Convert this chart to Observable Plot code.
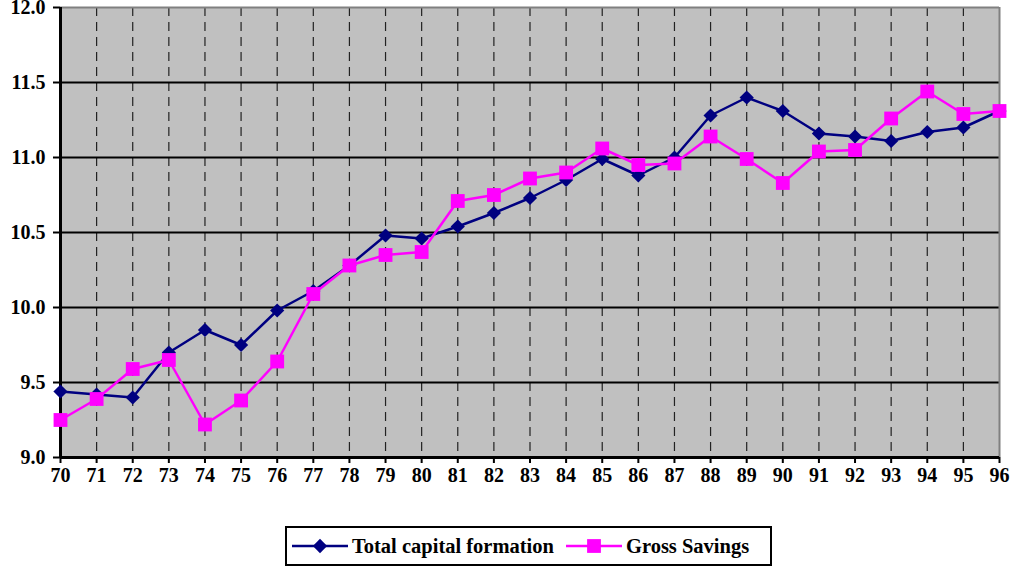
<!DOCTYPE html>
<html>
<head>
<meta charset="utf-8">
<script src="https://cdn.jsdelivr.net/npm/d3@7"></script>
<script src="https://cdn.jsdelivr.net/npm/@observablehq/plot@0.6"></script>
<style>
  html, body { margin: 0; padding: 0; background: #fff; }
  #wrap { position: relative; width: 1011px; height: 566px; }
  #chart svg, #chart svg text {
    font-family: "Liberation Serif", "Times New Roman", serif !important;
    font-weight: bold !important;
  }
  #legend {
    position: absolute; left: 285px; top: 526px; width: 483px; height: 36px;
    border: 2px solid #000; box-sizing: content-box; background: #fff;
    display: flex; align-items: center;
    font-family: "Liberation Serif", "Times New Roman", serif; font-weight: bold; font-size: 20.5px;
  }
  #legend .item { display: flex; align-items: center; }
  #legend svg { display: block; }
</style>
</head>
<body>
<div id="wrap">
  <div id="chart"></div>
  <div id="legend"></div>
</div>
<script>
// Years (two-digit labels) on the x axis
const years = [70, 71, 72, 73, 74, 75, 76, 77, 78, 79, 80, 81, 82, 83, 84, 85, 86, 87, 88, 89, 90, 91, 92, 93, 94, 95, 96];

// Total capital formation (log scale)
const capital = [9.44, 9.42, 9.40, 9.70, 9.85, 9.75, 9.98, 10.11, 10.28, 10.48, 10.46, 10.54, 10.63, 10.73, 10.85, 10.99, 10.88, 11.00, 11.28, 11.40, 11.31, 11.16, 11.14, 11.11, 11.17, 11.20, 11.31];

// Gross savings (log scale)
const savings = [9.25, 9.39, 9.59, 9.65, 9.22, 9.38, 9.64, 10.09, 10.28, 10.35, 10.37, 10.71, 10.75, 10.86, 10.90, 11.06, 10.95, 10.96, 11.14, 10.99, 10.83, 11.04, 11.05, 11.26, 11.44, 11.29, 11.31];

// Y tick values
const yTicks = [9.0, 9.5, 10.0, 10.5, 11.0, 11.5, 12.0];

const seriesNames = ["Total capital formation", "Gross Savings"];
const seriesColors = ["#000080", "#ff00ff"];

const capRows = years.map((y, i) => ({year: y, value: capital[i]}));
const savRows = years.map((y, i) => ({year: y, value: savings[i]}));

const innerYears = years.slice(1, -1);
const innerY = yTicks.slice(1, -1);

const axisFont = {fontFamily: "Liberation Serif", fontWeight: "bold"};

const chart = Plot.plot({
  width: 1011,
  height: 490,
  marginLeft: 60,
  marginRight: 12,
  marginTop: 7,
  marginBottom: 33,
  style: {
    fontFamily: "Liberation Serif",
    fontSize: "20px",
    fontWeight: "bold",
    color: "#000",
    background: "#fff"
  },
  x: {type: "linear", domain: [70, 96]},
  y: {domain: [9, 12]},
  marks: [
    Plot.frame({fill: "#c0c0c0", stroke: null}),
    // dashed vertical gridlines
    Plot.ruleX(innerYears, {stroke: "#222", strokeWidth: 1.2, strokeDasharray: "9,6"}),
    // solid horizontal gridlines
    Plot.ruleY(innerY, {stroke: "#000", strokeWidth: 2}),
    // plot area border (top/right grey, left/bottom black axes)
    Plot.ruleY([12], {stroke: "#808080", strokeWidth: 2}),
    Plot.ruleX([96], {stroke: "#808080", strokeWidth: 2}),
    Plot.ruleX([70], {stroke: "#000", strokeWidth: 3}),
    Plot.ruleY([9], {stroke: "#000", strokeWidth: 3}),
    Plot.axisY({ticks: yTicks, tickFormat: d3.format(".1f"), tickSize: 7, tickPadding: 8, strokeWidth: 2, label: null, ...axisFont}),
    Plot.axisX({ticks: years, tickFormat: d => String(d), tickSize: 6, tickPadding: 4, strokeWidth: 2, label: null, ...axisFont}),
    // Total capital formation
    Plot.line(capRows, {x: "year", y: "value", stroke: seriesColors[0], strokeWidth: 2.5}),
    Plot.dot(capRows, {x: "year", y: "value", symbol: "diamond2", r: 6.4, fill: seriesColors[0], stroke: null}),
    // Gross savings
    Plot.line(savRows, {x: "year", y: "value", stroke: seriesColors[1], strokeWidth: 2.5}),
    Plot.dot(savRows, {x: "year", y: "value", symbol: "square", r: 7.8, fill: seriesColors[1], stroke: null})
  ]
});
document.getElementById("chart").appendChild(chart);

// Legend: line sample with marker, followed by series name
const legend = d3.select("#legend");
const symbols = [d3.symbolDiamond2, d3.symbolSquare];
const symbolSizes = [130, 190];
seriesNames.forEach((name, i) => {
  const item = legend.append("div").attr("class", "item")
    .style("margin-left", i === 0 ? "5px" : "12px");
  const svg = item.append("svg").attr("width", 57).attr("height", 20);
  svg.append("line").attr("x1", 0).attr("x2", 56).attr("y1", 10).attr("y2", 10)
    .attr("stroke", seriesColors[i]).attr("stroke-width", 2.5);
  svg.append("path").attr("transform", "translate(28,10)")
    .attr("d", d3.symbol(symbols[i], symbolSizes[i])())
    .attr("fill", seriesColors[i]);
  item.append("span").text(name).style("margin-left", "3px");
});
</script>
</body>
</html>
